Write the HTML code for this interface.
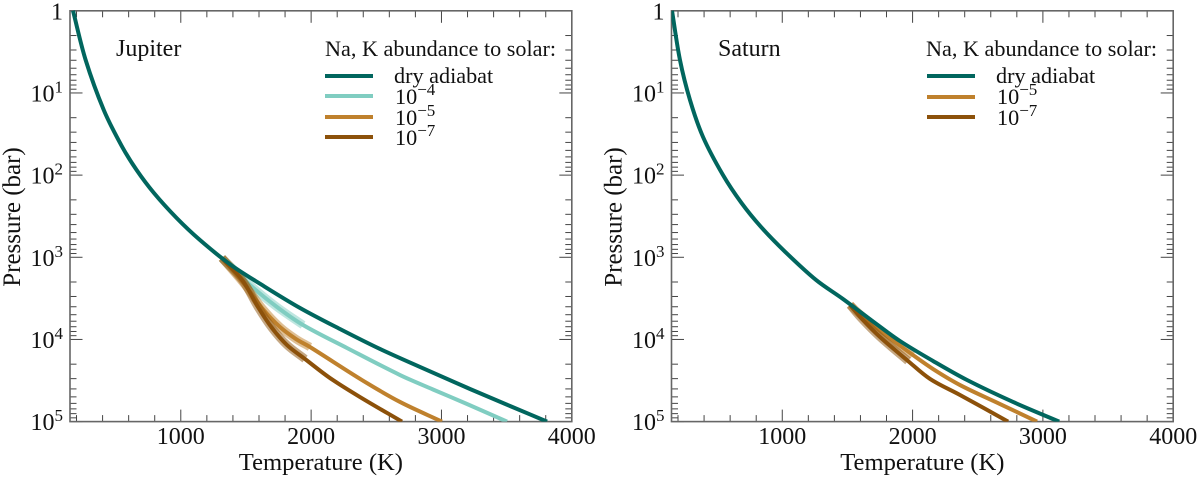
<!DOCTYPE html>
<html lang="en">
<head>
<meta charset="utf-8">
<title>Jupiter and Saturn adiabats</title>
<style>
html,body{margin:0;padding:0;background:#fff;}
svg{display:block;}
text{font-family:"Liberation Serif",serif;fill:#111;}
</style>
</head>
<body>
<svg id="chart" xmlns="http://www.w3.org/2000/svg" width="1200" height="479" viewBox="0 0 1200 479">
  <g id="panel-left"></g>
  <g id="panel-right"></g>

  <g>
    <text x="116" y="56" font-size="24">Jupiter</text>
    <text x="325" y="56" font-size="22.2">Na, K abundance to solar:</text>
    <line x1="325" x2="373" y1="76" y2="76" stroke="#01665e" stroke-width="4"/>
    <text x="394" y="83" font-size="22.2">dry adiabat</text>
    <line x1="325" x2="373" y1="96" y2="96" stroke="#80cdc1" stroke-width="4"/>
    <text x="395" y="104" font-size="22.2">10<tspan font-size="17" dy="-9">−4</tspan></text>
    <line x1="325" x2="373" y1="117" y2="117" stroke="#bf812d" stroke-width="4"/>
    <text x="395" y="125" font-size="22.2">10<tspan font-size="17" dy="-9">−5</tspan></text>
    <line x1="325" x2="373" y1="137" y2="137" stroke="#8c510a" stroke-width="4"/>
    <text x="395" y="145" font-size="22.2">10<tspan font-size="17" dy="-9">−7</tspan></text>
  </g>

  <g>
    <text x="718" y="56" font-size="24">Saturn</text>
    <text x="926" y="56" font-size="22.2">Na, K abundance to solar:</text>
    <line x1="927" x2="975" y1="76" y2="76" stroke="#01665e" stroke-width="4"/>
    <text x="996" y="83" font-size="22.2">dry adiabat</text>
    <line x1="927" x2="975" y1="97" y2="97" stroke="#bf812d" stroke-width="4"/>
    <text x="997" y="104" font-size="22.2">10<tspan font-size="17" dy="-9">−5</tspan></text>
    <line x1="927" x2="975" y1="117" y2="117" stroke="#8c510a" stroke-width="4"/>
    <text x="997" y="125" font-size="22.2">10<tspan font-size="17" dy="-9">−7</tspan></text>
  </g>
</svg>
<script>
// Axis tick values
var xMajorTicks = [1000, 2000, 3000, 4000];
var xMinorTicks = [200, 400, 600, 800, 1200, 1400, 1600, 1800, 2200, 2400, 2600, 2800, 3200, 3400, 3600, 3800];
var yDecades = [0, 1, 2, 3, 4, 5];
var yTickExponents = ["", "1", "2", "3", "4", "5"];
var yMinorMultipliers = [2, 3, 4, 5, 6, 7, 8, 9];

// Jupiter: temperature (K) and log10 pressure (bar)
var jupiterDryT = [173, 270, 409, 547, 661, 794, 968, 1147, 1385, 1623, 1915, 2221, 2528, 2835, 3219, 3526, 3810];
var jupiterDryLogP = [0, 0.599, 1.207, 1.646, 1.938, 2.218, 2.522, 2.790, 3.094, 3.337, 3.617, 3.873, 4.116, 4.335, 4.603, 4.810, 5];
var jupiterE4T = [1316, 1531, 1738, 1938, 2275, 2682, 2935, 3196, 3503];
var jupiterE4LogP = [3.009, 3.337, 3.605, 3.824, 4.104, 4.433, 4.609, 4.786, 5];
var jupiterE5T = [1316, 1493, 1623, 1761, 1884, 1991, 2390, 2682, 3004];
var jupiterE5LogP = [3.009, 3.337, 3.617, 3.849, 3.995, 4.092, 4.494, 4.761, 5];
var jupiterE7T = [1316, 1477, 1592, 1700, 1815, 1953, 2145, 2375, 2697];
var jupiterE7LogP = [3.009, 3.289, 3.605, 3.861, 4.068, 4.238, 4.470, 4.701, 5];

// Saturn: temperature (K) and log10 pressure (bar)
var saturnDryT = [154, 215, 292, 392, 545, 687, 837, 1024, 1259, 1466, 1712, 1903, 2157, 2418, 2771, 3125];
var saturnDryLogP = [0, 0.599, 1.086, 1.536, 1.999, 2.339, 2.631, 2.936, 3.276, 3.508, 3.800, 4.019, 4.262, 4.494, 4.761, 5];
var saturnE5T = [1520, 1612, 1773, 2003, 2157, 2364, 2671, 2955];
var saturnE5LogP = [3.580, 3.715, 3.922, 4.190, 4.360, 4.555, 4.786, 5];
var saturnE7T = [1520, 1612, 1750, 1965, 2134, 2364, 2733];
var saturnE7LogP = [3.580, 3.751, 3.970, 4.262, 4.481, 4.676, 5];

// Number of leading points covered by the pale uncertainty band
var jupiterBandCounts = [4, 6, 6];
var saturnBandCounts = [4, 4];

var SVG_NS = 'http://www.w3.org/2000/svg';
var T_MIN = 150, T_MAX = 4000, P_TOP = 0, P_BOTTOM = 5;
var PLOT_TOP = 10.8, PLOT_BOTTOM = 421.6;

function makeAxes(left, right) {
  return {
    left: left, right: right,
    x: function (t) { return left + (t - T_MIN) / (T_MAX - T_MIN) * (right - left); },
    y: function (lp) { return PLOT_TOP + (lp - P_TOP) / (P_BOTTOM - P_TOP) * (PLOT_BOTTOM - PLOT_TOP); }
  };
}

function node(parent, tag, attrs) {
  var el = document.createElementNS(SVG_NS, tag);
  for (var k in attrs) el.setAttribute(k, attrs[k]);
  parent.appendChild(el);
  return el;
}

function unitTangent(a, b) {
  var dx = b[0] - a[0], dy = b[1] - a[1], len = Math.sqrt(dx * dx + dy * dy) || 1;
  return [dx / len, dy / len];
}

// Smooth path: each control handle is a third of the chord, along the neighbour-chord direction
function curvePath(axes, ts, lps, count) {
  var n = count || ts.length, pts = [];
  for (var i = 0; i < n; i++) pts.push([axes.x(ts[i]), axes.y(lps[i])]);
  var d = 'M' + pts[0][0].toFixed(2) + ' ' + pts[0][1].toFixed(2);
  for (var j = 0; j < n - 1; j++) {
    var p0 = pts[Math.max(j - 1, 0)], p1 = pts[j], p2 = pts[j + 1], p3 = pts[Math.min(j + 2, n - 1)];
    var chord = Math.sqrt(Math.pow(p2[0] - p1[0], 2) + Math.pow(p2[1] - p1[1], 2)) / 3;
    var t1 = unitTangent(p0, p2), t2 = unitTangent(p1, p3);
    d += 'C' + (p1[0] + t1[0] * chord).toFixed(2) + ' ' + (p1[1] + t1[1] * chord).toFixed(2) + ' ' +
         (p2[0] - t2[0] * chord).toFixed(2) + ' ' + (p2[1] - t2[1] * chord).toFixed(2) + ' ' +
         p2[0].toFixed(2) + ' ' + p2[1].toFixed(2);
  }
  return d;
}

function drawAxes(g, axes) {
  var TICK = '#444', i, j, el, yy, xx;
  for (i = 0; i < xMinorTicks.length; i++) {
    xx = axes.x(xMinorTicks[i]);
    el = node(g, 'line', {x1: xx, x2: xx, y1: PLOT_BOTTOM, y2: PLOT_BOTTOM - 6.5, stroke: TICK, 'stroke-width': 1});
    
    
    el = node(g, 'line', {x1: xx, x2: xx, y1: PLOT_TOP, y2: PLOT_TOP + 6.5, stroke: TICK, 'stroke-width': 1});
    
    
  }
  for (i = 0; i < xMajorTicks.length; i++) {
    xx = axes.x(xMajorTicks[i]);
    el = node(g, 'line', {x1: xx, x2: xx, y1: PLOT_BOTTOM, y2: PLOT_BOTTOM - 12, stroke: TICK, 'stroke-width': 1});
    
    
    el = node(g, 'line', {x1: xx, x2: xx, y1: PLOT_TOP, y2: PLOT_TOP + 12, stroke: TICK, 'stroke-width': 1});
    
    
    el = node(g, 'text', {x: xx, y: 444, 'font-size': 24, 'text-anchor': 'middle'});
    el.textContent = String(xMajorTicks[i]);
    
    
  }
  for (i = 0; i < yDecades.length; i++) {
    yy = axes.y(yDecades[i]);
    el = node(g, 'line', {x1: axes.left, x2: axes.left + 12.5, y1: yy, y2: yy, stroke: TICK, 'stroke-width': 1});
    
    
    el = node(g, 'line', {x1: axes.right, x2: axes.right - 12.5, y1: yy, y2: yy, stroke: TICK, 'stroke-width': 1});
    
    

    el = node(g, 'text', {x: axes.left - 7, y: yy + 8.5, 'font-size': 24, 'text-anchor': 'end'});
    
    
    if (yTickExponents[i] === '') {
      el.textContent = '1';
    } else {
      el.appendChild(document.createTextNode('10'));
      var sup = node(el, 'tspan', {'font-size': 17, dy: -9});
      sup.textContent = yTickExponents[i];
    }

    if (i < yDecades.length - 1) {
      for (j = 0; j < yMinorMultipliers.length; j++) {
        yy = axes.y(yDecades[i] + Math.log10(yMinorMultipliers[j]));
        el = node(g, 'line', {x1: axes.left, x2: axes.left + 6.5, y1: yy, y2: yy, stroke: TICK, 'stroke-width': 1});
        
        
        el = node(g, 'line', {x1: axes.right, x2: axes.right - 6.5, y1: yy, y2: yy, stroke: TICK, 'stroke-width': 1});
        
        
      }
    }
  }
  el = node(g, 'rect', {x: axes.left, y: PLOT_TOP, width: axes.right - axes.left, height: PLOT_BOTTOM - PLOT_TOP, fill: 'none', stroke: '#666', 'stroke-width': 1.6});
  
  

  var mid = (axes.left + axes.right) / 2;
  el = node(g, 'text', {x: mid, y: 470, 'font-size': 24.6, 'text-anchor': 'middle'});
  el.textContent = 'Temperature (K)';
  
  
  var titleX = axes.left - 50;
  el = node(g, 'text', {x: titleX, y: 217, 'font-size': 25, 'text-anchor': 'middle', transform: 'rotate(-90 ' + titleX + ' 217)'});
  el.textContent = 'Pressure (bar)';
  
  
}

function drawBand(g, axes, ts, lps, count, color, clip) {
  var el = node(g, 'path', {d: curvePath(axes, ts, lps, count), fill: 'none', stroke: color, 'stroke-width': 8.5, 'stroke-opacity': 0.5, 'clip-path': clip});
  
  
}

function drawCurve(g, axes, ts, lps, color, clip) {
  var el = node(g, 'path', {d: curvePath(axes, ts, lps), fill: 'none', stroke: color, 'stroke-width': 4, 'stroke-linejoin': 'round', 'clip-path': clip});
  
  
}

function addClip(svg, id, axes) {
  var cp = node(svg, 'clipPath', {id: id});
  node(cp, 'rect', {x: axes.left, y: PLOT_TOP - 1, width: axes.right - axes.left, height: PLOT_BOTTOM - PLOT_TOP + 1});
}

var svgRoot = document.getElementById('chart');
var leftAxes = makeAxes(70, 571.8);
var rightAxes = makeAxes(671.5, 1173.2);
var gL = document.getElementById('panel-left');
var gR = document.getElementById('panel-right');
addClip(svgRoot, 'clip-left', leftAxes);
addClip(svgRoot, 'clip-right', rightAxes);

var TEAL = '#01665e', LIGHT = '#80cdc1', BRONZE = '#bf812d', BROWN = '#8c510a';

drawAxes(gL, leftAxes);
drawCurve(gL, leftAxes, jupiterE4T, jupiterE4LogP, LIGHT, 'url(#clip-left)');
drawBand(gL, leftAxes, jupiterE4T, jupiterE4LogP, jupiterBandCounts[0], LIGHT, 'url(#clip-left)');
drawCurve(gL, leftAxes, jupiterE5T, jupiterE5LogP, BRONZE, 'url(#clip-left)');
drawBand(gL, leftAxes, jupiterE5T, jupiterE5LogP, jupiterBandCounts[1], BRONZE, 'url(#clip-left)');
drawCurve(gL, leftAxes, jupiterE7T, jupiterE7LogP, BROWN, 'url(#clip-left)');
drawBand(gL, leftAxes, jupiterE7T, jupiterE7LogP, jupiterBandCounts[2], BROWN, 'url(#clip-left)');
drawCurve(gL, leftAxes, jupiterDryT, jupiterDryLogP, TEAL, 'url(#clip-left)');

drawAxes(gR, rightAxes);
drawCurve(gR, rightAxes, saturnE5T, saturnE5LogP, BRONZE, 'url(#clip-right)');
drawBand(gR, rightAxes, saturnE5T, saturnE5LogP, saturnBandCounts[0], BRONZE, 'url(#clip-right)');
drawCurve(gR, rightAxes, saturnE7T, saturnE7LogP, BROWN, 'url(#clip-right)');
drawBand(gR, rightAxes, saturnE7T, saturnE7LogP, saturnBandCounts[1], BROWN, 'url(#clip-right)');
drawCurve(gR, rightAxes, saturnDryT, saturnDryLogP, TEAL, 'url(#clip-right)');
</script>
</body>
</html>
